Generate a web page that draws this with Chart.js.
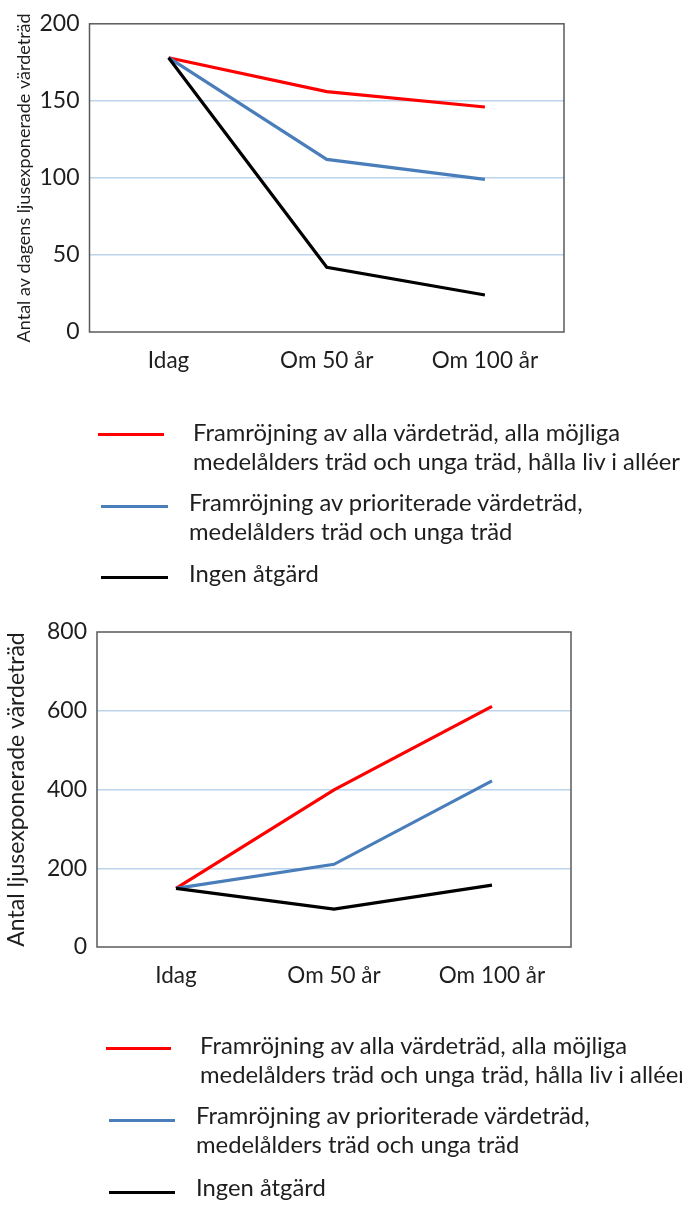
<!DOCTYPE html>
<html lang="sv">
<head>
  <meta charset="UTF-8">
  <title>Ljusexponerade värdeträd</title>
  <style>
    body {
      margin: 0;
      padding: 0;
      background: #fff;
      font-family: Lato, "Open Sans", sans-serif;
      color: #222;
      width: 682px;
      height: 1211px;
      position: relative;
      overflow: hidden;
    }
    .wrap { position: absolute; left: 0; width: 682px; }
    #wrap1 { top: 0; height: 380px; }
    #wrap2 { top: 600px; height: 410px; }
    .leg {
      position: absolute;
      left: 0;
      width: 682px;
      white-space: nowrap;
      overflow: hidden;
    }
    .item { position: absolute; left: 0; width: 682px; }
    .item i {
      position: absolute;
      height: 3px;
      width: 66px;
    }
    .item span {
      position: absolute;
      font-size: 23.8px;
      line-height: 29px;
      color: #1e1e1e;
    }
  </style>
  <script src="https://cdn.jsdelivr.net/npm/chart.js"></script>
</head>
<body>

  <div class="wrap" id="wrap1"><canvas id="grafico1"></canvas></div>
  <div class="leg" id="leg1" style="top:0;height:600px"></div>

  <div class="wrap" id="wrap2"><canvas id="grafico2"></canvas></div>
  <div class="leg" id="leg2" style="top:0;height:1211px"></div>

  <script>
    const perioder = ['Idag', 'Om 50 år', 'Om 100 år'];

    const serieNamn = [
      'Framröjning av alla värdeträd, alla möjliga<br>medelålders träd och unga träd, hålla liv i alléer',
      'Framröjning av prioriterade värdeträd,<br>medelålders träd och unga träd',
      'Ingen åtgärd'
    ];
    const farger = ['#ff0000', '#4a7ebb', '#000000'];

    // diagram 1: antal av dagens ljusexponerade värdeträd
    const dagensAlla = [178, 156, 146];
    const dagensPrio = [178, 112, 99];
    const dagensIngen = [178, 42, 24];
    const ticks1 = [0, 50, 100, 150, 200];

    // diagram 2: antal ljusexponerade värdeträd
    const antalAlla = [149, 399, 611];
    const antalPrio = [149, 210, 422];
    const antalIngen = [149, 96, 157];
    const ticks2 = [0, 200, 400, 600, 800];

    const ram = {
      id: 'ram',
      afterDraw(chart) {
        const a = chart.chartArea;
        const c = chart.ctx;
        c.save();
        c.strokeStyle = '#5a5a5a';
        c.lineWidth = 1.5;
        c.strokeRect(a.left, a.top, a.right - a.left, a.bottom - a.top);
        c.restore();
      }
    };

    function ritaDiagram(id, serier, tickVals, titel, titelStorlek, titelPad, pad, yBredd, xHojd) {
      const ctx = document.getElementById(id);
      return new Chart(ctx, {
        type: 'line',
        data: {
          labels: perioder,
          datasets: serier.map((d, i) => ({
            label: serieNamn[i],
            data: d,
            borderColor: farger[i],
            borderWidth: 3.2,
            pointRadius: 0,
            tension: 0,
            fill: false
          })).reverse()
        },
        options: {
          responsive: true,
          maintainAspectRatio: false,
          animation: false,
          layout: { padding: pad },
          plugins: { legend: { display: false }, tooltip: { enabled: false } },
          scales: {
            x: {
              offset: true,
              grid: { display: false, drawTicks: false },
              border: { display: false },
              ticks: {
                color: '#1e1e1e',
                font: { family: 'Lato', size: 22.5 },
                padding: 15
              },
              afterFit(s) { s.height = xHojd; }
            },
            y: {
              min: tickVals[0],
              max: tickVals[tickVals.length - 1],
              afterBuildTicks(s) { s.ticks = tickVals.map(v => ({ value: v })); },
              grid: {
                color: (c) => (c.tick && (c.tick.value === tickVals[0] || c.tick.value === tickVals[tickVals.length - 1])) ? 'rgba(0,0,0,0)' : '#bcd4ec',
                lineWidth: 1.5,
                drawTicks: false
              },
              border: { display: false },
              ticks: {
                color: '#1e1e1e',
                font: { family: 'Lato', size: 23 },
                padding: 10
              },
              title: {
                display: true,
                text: titel,
                color: '#1e1e1e',
                font: { family: 'Lato', size: titelStorlek },
                padding: { top: titelPad, bottom: 0 }
              },
              afterFit(s) { s.width = yBredd; }
            }
          }
        },
        plugins: [ram]
      });
    }

    ritaDiagram('grafico1', [dagensAlla, dagensPrio, dagensIngen], ticks1,
      'Antal av dagens ljusexponerade värdeträd', 18, 13,
      { top: 19, right: 118, bottom: 0, left: 0 }, 89.5, 48);

    ritaDiagram('grafico2', [antalAlla, antalPrio, antalIngen], ticks2,
      'Antal ljusexponerade värdeträd', 23, 3,
      { top: 32, right: 111, bottom: 0, left: 0 }, 97, 63);

    // egna förklaringar under diagrammen
    function ritaForklaring(id, poster) {
      const leg = document.getElementById(id);
      poster.forEach((p, i) => {
        const el = document.createElement('div');
        el.className = 'item';
        el.innerHTML = `<i style="background:${farger[i]};left:${p.lx}px;top:${p.ly - 1.5}px;width:${p.lw}px"></i>` +
          `<span style="left:${p.tx}px;top:${p.ty - 14.5}px">${serieNamn[i]}</span>`;
        leg.appendChild(el);
      });
    }

    ritaForklaring('leg1', [
      { lx: 98, ly: 434, lw: 66, tx: 193, ty: 432 },
      { lx: 101, ly: 506, lw: 67, tx: 189, ty: 502 },
      { lx: 101, ly: 577, lw: 67, tx: 189, ty: 573 }
    ]);
    ritaForklaring('leg2', [
      { lx: 106, ly: 1048, lw: 65, tx: 200, ty: 1045 },
      { lx: 109, ly: 1120, lw: 66, tx: 196, ty: 1115 },
      { lx: 109, ly: 1192, lw: 66, tx: 196, ty: 1187 }
    ]);
  </script>
</body>
</html>
